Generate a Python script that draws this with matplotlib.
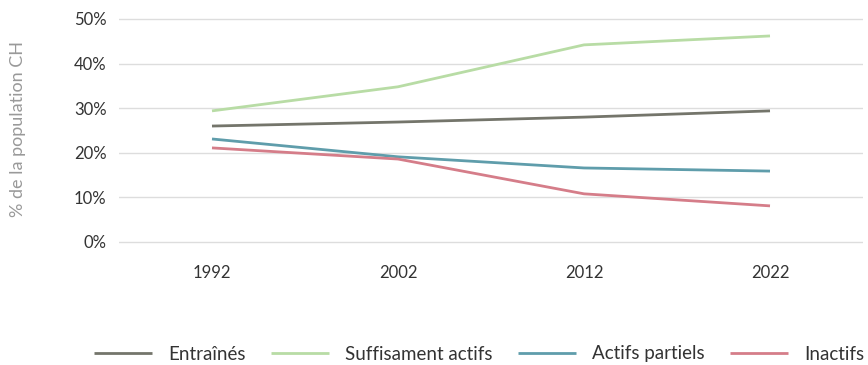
import matplotlib.pyplot as plt

# survey years and share of the Swiss population per activity level
years = ["1992", "2002", "2012", "2022"]
entraines = [26.0, 26.9, 28.0, 29.4]
suffisament_actifs = [29.4, 34.8, 44.2, 46.2]
actifs_partiels = [23.1, 19.1, 16.6, 15.9]
inactifs = [21.1, 18.6, 10.8, 8.1]

series = [
    ("Entraînés", entraines, "#74756b"),
    ("Suffisament actifs", suffisament_actifs, "#b8dca5"),
    ("Actifs partiels", actifs_partiels, "#5f9dab"),
    ("Inactifs", inactifs, "#d57d89"),
]

plt.rcParams['font.family'] = ['Lato', 'DejaVu Sans']

fig = plt.figure(figsize=(8.68, 3.65), dpi=100)
# plot area: 50% at y=19px, 0% at y=242px, padded a little so the 0% gridline isn't clipped
px_per_pct = (242 - 19) / 50
top, bottom = 19 - px_per_pct, 242 + px_per_pct
ax = fig.add_axes([119 / 868, 1 - bottom / 365, (863 - 119) / 868, (bottom - top) / 365])

x = range(len(years))
for name, vals, col in series:
    ax.plot(x, vals, color=col, lw=2.0, label=name, solid_capstyle='butt')

ax.set_xlim(-0.5, 3.5)
ax.set_ylim(-1, 51)
ax.set_yticks([0, 10, 20, 30, 40, 50])
ax.set_yticklabels([f"{v}%" for v in [0, 10, 20, 30, 40, 50]])
ax.set_xticks(list(x))
ax.set_xticklabels(years)
ax.grid(axis='y', color='#dddddd', lw=1)
ax.set_axisbelow(True)
for s in ax.spines.values():
    s.set_visible(False)
ax.tick_params(axis='both', length=0, labelsize=12, labelcolor='#333333')
ax.tick_params(axis='x', pad=13)
ax.tick_params(axis='y', pad=9)

fig.text(18 / 868, 1 - 129 / 365, "% de la population CH", rotation=90,
         ha='center', va='center', fontsize=13, color='#999999')

fig.legend(loc='center', bbox_to_anchor=(479 / 868, 1 - 354 / 365), ncol=4,
           frameon=False, fontsize=13.5, handlelength=3.1, columnspacing=1.35,
           handletextpad=0.85, labelcolor='#333333')

fig.savefig("out.png", dpi=100)
